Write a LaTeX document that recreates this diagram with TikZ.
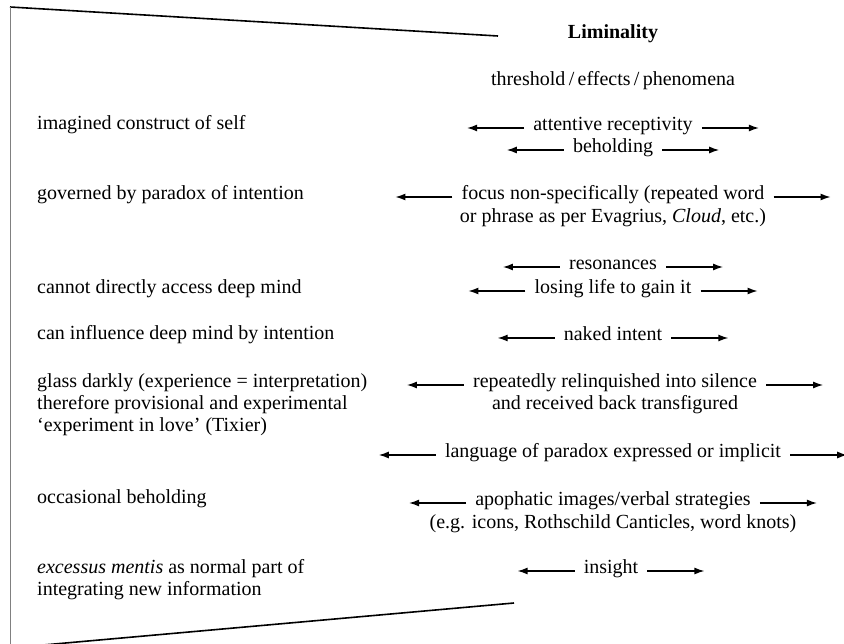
\documentclass[tikz,border=0pt]{standalone}
\usepackage{fontspec}
\setmainfont{Liberation Serif}
\usetikzlibrary{arrows.meta}

\newcommand{\twoway}[1]{%
  \draw[tip] ([xshift=-9pt]#1.mid west) -- ++(-57,0);
  \draw[tip] ([xshift=9pt]#1.mid east) -- ++(57,0);}

\begin{document}
\begin{tikzpicture}[x=1pt,y=-1pt]
\tikzstyle{every node}=[inner sep=0pt,font=\fontsize{20}{22}\selectfont]
\tikzstyle{lft}=[anchor=mid west]
\tikzstyle{rgt}=[anchor=mid]
\tikzstyle{tip}=[-{Latex[length=10pt,width=7pt]},line width=1.3pt]
\useasboundingbox (0,0) rectangle (844,644);

% frame
\draw[line width=1.6pt] (10,7) -- (498,36);
\draw[line width=0.9pt,gray] (10,7) -- (10,644);
\draw[line width=1.6pt] (32,646) -- (514,603);

% heading
\node[rgt,font=\fontsize{20}{22}\selectfont\bfseries] (lim) at (613,36) {Liminality};
\node[rgt] (thr) at (613,83) {threshold\,/\,effects\,/\,phenomena};

% left column
\node[lft] (self) at (37,127) {imagined construct of self};
\node[lft] (gov) at (37,197) {governed by paradox of intention};
\node[lft] (deep) at (37,291) {cannot directly access deep mind};
\node[lft] (infl) at (37,337) {can influence deep mind by intention};
\node[lft] (glass) at (37,385) {glass darkly (experience = interpretation)};
\node[lft] (prov) at (37,407) {therefore provisional and experimental};
\node[lft] (love) at (37,429) {`experiment in love' (Tixier)};
\node[lft] (occ) at (37,501) {occasional beholding};
\node[lft] (exc) at (37,571) {\textit{excessus mentis} as normal part of};
\node[lft] (integ) at (37,593) {integrating new information};

% right column
\node[rgt] (att) at (613,128) {attentive receptivity};
\node[rgt] (beh) at (613,150) {beholding};
\node[rgt] (foc) at (613,197) {focus non-specifically (repeated word};
\node[rgt] (foc2) at (613,220) {or phrase as per Evagrius, \textit{Cloud}, etc.)};
\node[rgt] (res) at (613,267) {resonances};
\node[rgt] (los) at (613,291) {losing life to gain it};
\node[rgt] (nak) at (613,338) {naked intent};
\node[rgt] (rel) at (615,385) {repeatedly relinquished into silence};
\node[rgt] (rel2) at (615,407) {and received back transfigured};
\node[rgt] (lang) at (613,455) {language of paradox expressed or implicit};
\node[rgt] (apo) at (613,503) {apophatic images/verbal strategies};
\node[rgt] (apo2) at (613,526) {(e.g. icons, Rothschild Canticles, word knots)};
\node[rgt] (ins) at (611,571) {insight};

% arrows
\foreach \n in {att,beh,foc,res,los,nak,rel,lang,apo,ins}
  {\twoway{\n}}
\end{tikzpicture}
\end{document}
